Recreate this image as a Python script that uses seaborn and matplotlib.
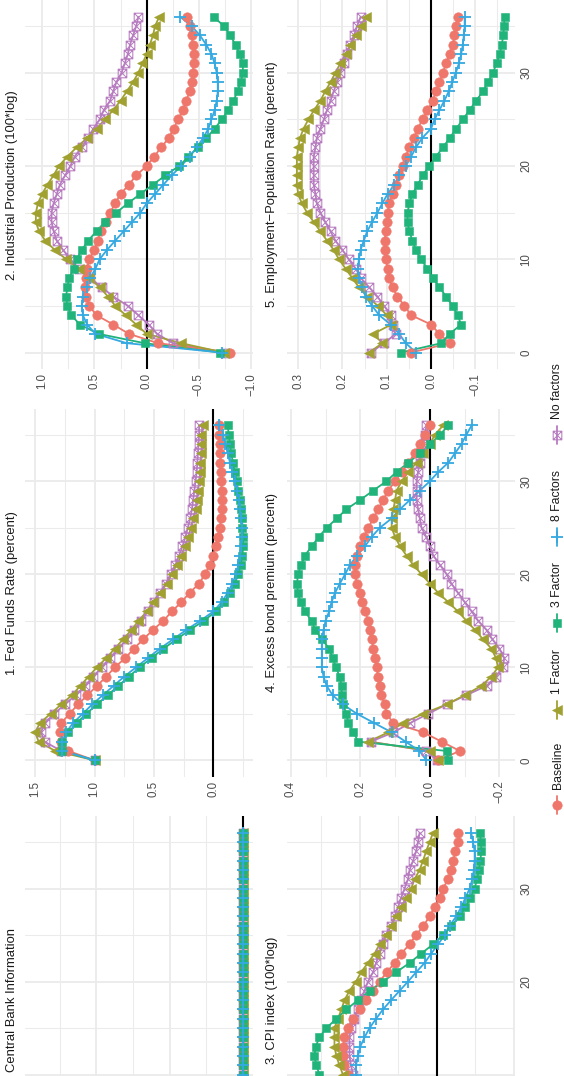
import matplotlib
matplotlib.use("Agg")
import matplotlib.pyplot as plt
from matplotlib.path import Path
import seaborn as sns

# ---------------- data ----------------
horizons = list(range(37))
series_names = ["Baseline", "1 Factor", "3 Factor", "8 Factors", "No factors"]
series_colors = ["#EF766B", "#A1A131", "#20B37A", "#35A9E1", "#B77CC0"]

cbi_response = [0.567, 0, 0, 0, 0, 0, 0, 0, 0, 0, 0, 0, 0, 0, 0, 0, 0, 0, 0,
                0, 0, 0, 0, 0, 0, 0, 0, 0, 0, 0, 0, 0, 0, 0, 0, 0, 0]

ffr_baseline = [1.0, 1.22, 1.28, 1.29, 1.28, 1.21, 1.14, 1.06, 0.98, 0.90, 0.83, 0.74, 0.67, 0.59, 0.51, 0.42, 0.35, 0.27, 0.20, 0.12, 0.07, 0.03, 0.0, -0.02, -0.04, -0.055, -0.065, -0.07, -0.07, -0.07, -0.065, -0.065, -0.06, -0.06, -0.055, -0.05, -0.045]
ffr_1factor = [1.0, 1.33, 1.47, 1.50, 1.46, 1.37, 1.28, 1.19, 1.12, 1.05, 0.98, 0.90, 0.83, 0.76, 0.69, 0.63, 0.56, 0.51, 0.45, 0.39, 0.35, 0.31, 0.27, 0.24, 0.21, 0.19, 0.17, 0.15, 0.14, 0.13, 0.12, 0.11, 0.11, 0.10, 0.10, 0.10, 0.09]
ffr_3factor = [1.0, 1.27, 1.27, 1.22, 1.15, 1.07, 0.98, 0.89, 0.80, 0.71, 0.62, 0.52, 0.42, 0.31, 0.20, 0.08, -0.02, -0.09, -0.14, -0.18, -0.21, -0.23, -0.245, -0.25, -0.25, -0.245, -0.24, -0.23, -0.22, -0.21, -0.195, -0.18, -0.165, -0.15, -0.14, -0.13, -0.12]
ffr_8factors = [1.0, 1.27, 1.27, 1.24, 1.18, 1.10, 1.02, 0.93, 0.84, 0.75, 0.65, 0.55, 0.45, 0.34, 0.23, 0.11, 0.0, -0.07, -0.12, -0.16, -0.19, -0.21, -0.225, -0.235, -0.24, -0.24, -0.235, -0.225, -0.215, -0.2, -0.18, -0.16, -0.14, -0.12, -0.10, -0.08, -0.05]
ffr_nofactors = [1.0, 1.28, 1.42, 1.45, 1.42, 1.34, 1.25, 1.16, 1.08, 1.01, 0.94, 0.87, 0.80, 0.73, 0.67, 0.61, 0.55, 0.50, 0.45, 0.40, 0.36, 0.32, 0.29, 0.26, 0.235, 0.215, 0.195, 0.18, 0.17, 0.16, 0.15, 0.14, 0.135, 0.13, 0.125, 0.12, 0.12]

ip_baseline = [-0.80, -0.11, 0.17, 0.32, 0.48, 0.55, 0.58, 0.59, 0.58, 0.57, 0.55, 0.50, 0.47, 0.44, 0.39, 0.35, 0.30, 0.25, 0.17, 0.10, 0.0, -0.07, -0.14, -0.21, -0.26, -0.30, -0.35, -0.38, -0.41, -0.43, -0.44, -0.45, -0.45, -0.44, -0.43, -0.41, -0.39]
ip_1factor = [-0.74, -0.33, 0.0, 0.10, 0.20, 0.30, 0.37, 0.45, 0.55, 0.65, 0.77, 0.88, 0.97, 1.03, 1.06, 1.06, 1.04, 1.00, 0.95, 0.89, 0.84, 0.76, 0.67, 0.57, 0.48, 0.40, 0.32, 0.25, 0.19, 0.13, 0.08, 0.04, 0.0, -0.03, -0.06, -0.08, -0.12]
ip_3factor = [-0.70, 0.02, 0.46, 0.64, 0.72, 0.76, 0.77, 0.76, 0.74, 0.70, 0.67, 0.62, 0.56, 0.48, 0.40, 0.29, 0.18, 0.06, -0.06, -0.18, -0.31, -0.40, -0.49, -0.57, -0.65, -0.72, -0.78, -0.83, -0.87, -0.90, -0.92, -0.92, -0.89, -0.85, -0.80, -0.74, -0.64]
ip_8factors = [-0.72, 0.19, 0.49, 0.57, 0.61, 0.62, 0.61, 0.57, 0.54, 0.49, 0.45, 0.38, 0.30, 0.22, 0.14, 0.06, 0.0, -0.08, -0.16, -0.24, -0.33, -0.41, -0.48, -0.54, -0.59, -0.62, -0.65, -0.67, -0.68, -0.68, -0.67, -0.65, -0.62, -0.57, -0.51, -0.43, -0.32]
ip_nofactors = [-0.75, -0.25, -0.10, -0.02, 0.08, 0.18, 0.32, 0.43, 0.54, 0.65, 0.73, 0.80, 0.86, 0.89, 0.91, 0.91, 0.89, 0.86, 0.83, 0.78, 0.73, 0.69, 0.62, 0.56, 0.51, 0.45, 0.41, 0.35, 0.32, 0.29, 0.24, 0.21, 0.18, 0.16, 0.13, 0.10, 0.08]

cpi_baseline = [0.0, 0.02, 0.05, 0.08, 0.11, 0.14, 0.17, 0.19, 0.205, 0.22, 0.231, 0.24, 0.244, 0.244, 0.24, 0.231, 0.218, 0.20, 0.184, 0.166, 0.149, 0.13, 0.11, 0.093, 0.071, 0.054, 0.035, 0.019, 0.006, -0.007, -0.016, -0.029, -0.037, -0.043, -0.048, -0.055, -0.055]
cpi_1factor = [0.0, 0.05, 0.09, 0.13, 0.16, 0.19, 0.21, 0.225, 0.235, 0.24, 0.244, 0.253, 0.261, 0.266, 0.266, 0.266, 0.257, 0.248, 0.24, 0.227, 0.21, 0.197, 0.179, 0.162, 0.149, 0.132, 0.119, 0.106, 0.093, 0.08, 0.067, 0.058, 0.045, 0.036, 0.028, 0.019, 0.010]
cpi_3factor = [0.0, 0.04, 0.09, 0.14, 0.18, 0.22, 0.25, 0.27, 0.285, 0.295, 0.305, 0.313, 0.318, 0.315, 0.305, 0.287, 0.261, 0.235, 0.205, 0.175, 0.14, 0.106, 0.071, 0.041, 0.010, -0.016, -0.037, -0.059, -0.074, -0.087, -0.098, -0.104, -0.109, -0.113, -0.115, -0.115, -0.111]
cpi_8factors = [0.0, 0.03, 0.07, 0.11, 0.14, 0.165, 0.18, 0.195, 0.203, 0.208, 0.21, 0.21, 0.205, 0.199, 0.188, 0.175, 0.158, 0.14, 0.119, 0.097, 0.075, 0.054, 0.032, 0.015, -0.003, -0.02, -0.033, -0.05, -0.063, -0.074, -0.085, -0.092, -0.096, -0.098, -0.098, -0.094, -0.089]
cpi_nofactors = [0.0, 0.04, 0.08, 0.11, 0.14, 0.165, 0.185, 0.20, 0.21, 0.215, 0.218, 0.223, 0.227, 0.227, 0.227, 0.223, 0.214, 0.205, 0.197, 0.188, 0.179, 0.166, 0.158, 0.149, 0.14, 0.132, 0.119, 0.11, 0.101, 0.093, 0.084, 0.075, 0.071, 0.062, 0.054, 0.049, 0.045]

ebp_baseline = [-0.024, -0.086, -0.034, 0.019, 0.105, 0.125, 0.13, 0.14, 0.144, 0.15, 0.153, 0.158, 0.163, 0.168, 0.172, 0.177, 0.187, 0.196, 0.20, 0.21, 0.215, 0.215, 0.21, 0.20, 0.19, 0.177, 0.163, 0.148, 0.134, 0.12, 0.10, 0.081, 0.062, 0.043, 0.029, 0.014, 0.0]
ebp_1factor = [-0.024, 0.0, 0.177, 0.12, 0.077, 0.019, -0.048, -0.10, -0.148, -0.177, -0.196, -0.19, -0.177, -0.153, -0.13, -0.105, -0.081, -0.053, -0.024, 0.0, 0.024, 0.048, 0.067, 0.086, 0.10, 0.11, 0.11, 0.105, 0.10, 0.096, 0.081, 0.062, 0.038, 0.019, 0.0, -0.014, -0.038]
ebp_3factor = [-0.053, -0.048, 0.206, 0.22, 0.235, 0.24, 0.25, 0.254, 0.254, 0.26, 0.27, 0.28, 0.29, 0.31, 0.33, 0.34, 0.36, 0.372, 0.38, 0.382, 0.38, 0.37, 0.36, 0.34, 0.32, 0.297, 0.268, 0.24, 0.20, 0.163, 0.125, 0.096, 0.062, 0.029, 0.0, -0.029, -0.053]
ebp_8factors = [0.01, 0.03, 0.07, 0.11, 0.16, 0.21, 0.25, 0.28, 0.297, 0.306, 0.311, 0.311, 0.311, 0.311, 0.306, 0.30, 0.29, 0.283, 0.273, 0.259, 0.244, 0.23, 0.21, 0.187, 0.168, 0.144, 0.11, 0.086, 0.057, 0.029, 0.0, -0.024, -0.053, -0.072, -0.091, -0.105, -0.12]
ebp_nofactors = [-0.02, 0.01, 0.17, 0.105, 0.057, 0.005, -0.048, -0.105, -0.163, -0.19, -0.21, -0.214, -0.20, -0.18, -0.163, -0.139, -0.12, -0.10, -0.081, -0.062, -0.048, -0.029, -0.01, 0.0, 0.01, 0.024, 0.029, 0.034, 0.038, 0.038, 0.038, 0.034, 0.029, 0.024, 0.019, 0.014, 0.01]

emp_baseline = [0.045, -0.042, -0.019, 0.0, 0.045, 0.06, 0.076, 0.087, 0.095, 0.098, 0.102, 0.105, 0.105, 0.102, 0.10, 0.098, 0.095, 0.087, 0.08, 0.072, 0.064, 0.057, 0.049, 0.038, 0.03, 0.019, 0.008, -0.004, -0.011, -0.019, -0.027, -0.034, -0.042, -0.049, -0.053, -0.057, -0.06]
emp_1factor = [0.14, 0.11, 0.13, 0.09, 0.10, 0.12, 0.144, 0.163, 0.178, 0.193, 0.208, 0.22, 0.235, 0.25, 0.265, 0.28, 0.292, 0.30, 0.303, 0.303, 0.303, 0.303, 0.30, 0.296, 0.288, 0.277, 0.264, 0.25, 0.239, 0.227, 0.216, 0.205, 0.193, 0.182, 0.17, 0.159, 0.148]
emp_3factor = [0.068, -0.023, -0.042, -0.068, -0.06, -0.049, -0.034, -0.019, -0.004, 0.008, 0.023, 0.034, 0.042, 0.049, 0.053, 0.053, 0.049, 0.042, 0.03, 0.019, 0.004, -0.011, -0.027, -0.042, -0.057, -0.072, -0.087, -0.102, -0.117, -0.129, -0.14, -0.148, -0.155, -0.16, -0.163, -0.165, -0.166]
emp_8factors = [0.034, 0.057, 0.072, 0.091, 0.117, 0.133, 0.148, 0.155, 0.163, 0.165, 0.163, 0.159, 0.152, 0.144, 0.133, 0.121, 0.11, 0.098, 0.083, 0.072, 0.057, 0.045, 0.034, 0.02, 0.0, -0.008, -0.019, -0.03, -0.04, -0.048, -0.056, -0.063, -0.068, -0.072, -0.074, -0.076, -0.076]
emp_nofactors = [0.136, 0.106, 0.08, 0.087, 0.091, 0.106, 0.121, 0.14, 0.159, 0.17, 0.186, 0.20, 0.216, 0.227, 0.239, 0.25, 0.258, 0.261, 0.265, 0.265, 0.265, 0.265, 0.261, 0.258, 0.25, 0.242, 0.235, 0.227, 0.22, 0.212, 0.205, 0.197, 0.19, 0.182, 0.174, 0.167, 0.159]

panel_titles = ["Central Bank Information", "1. Fed Funds Rate (percent)",
                "2. Industrial Production (100*log)", "3. CPI index (100*log)",
                "4. Excess bond premium (percent)",
                "5. Employment\u2212Population Ratio (percent)"]
panel_series = [
    [cbi_response, cbi_response, cbi_response, cbi_response, cbi_response],
    [ffr_baseline, ffr_1factor, ffr_3factor, ffr_8factors, ffr_nofactors],
    [ip_baseline, ip_1factor, ip_3factor, ip_8factors, ip_nofactors],
    [cpi_baseline, cpi_1factor, cpi_3factor, cpi_8factors, cpi_nofactors],
    [ebp_baseline, ebp_1factor, ebp_3factor, ebp_8factors, ebp_nofactors],
    [emp_baseline, emp_1factor, emp_3factor, emp_8factors, emp_nofactors],
]
horizon_breaks = [0, 10, 20, 30]
horizon_minor = [5, 15, 25, 35]

# ---------------- layout / style ----------------
W, H = 564, 1076
sns.set_theme(style="white")
plt.rcParams['font.family'] = ['Liberation Sans', 'DejaVu Sans']
plt.rcParams['axes.unicode_minus'] = True

fig = plt.figure(figsize=(W / 100, H / 100), dpi=100)
fig.patch.set_facecolor("white")

col_x = [(25.0, 253.3), (286.7, 514.7)]
row_y = [(0.0, 369.3), (408.7, 777.0), (816.0, 1184.3)]

# (column, row, value limits (left, right), major, minor, title x)
panel_layout = [
    (0, 2, (0.595, -0.028), [0, 0.2, 0.4], [0.1, 0.3, 0.5], 12.5),
    (0, 1, (1.585, -0.336), [0, 0.5, 1.0, 1.5], [-0.25, 0.25, 0.75, 1.25], 12.5),
    (0, 0, (1.164, -1.02), [-1.0, -0.5, 0, 0.5, 1.0], [-0.75, -0.25, 0.25, 0.75], 12.5),
    (1, 2, (0.39, -0.202), [-0.2, 0, 0.2], [-0.1, 0.1, 0.3], 272),
    (1, 1, (0.412, -0.244), [-0.2, 0, 0.2, 0.4], [-0.1, 0.1, 0.3], 272),
    (1, 0, (0.326, -0.189), [-0.1, 0, 0.1, 0.2, 0.3], [-0.15, -0.05, 0.05, 0.15, 0.25], 272),
]

sq = Path([(-1, -1), (1, -1), (1, 1), (-1, 1), (-1, -1), (-1, -1), (1, 1), (-1, 1), (1, -1)],
          [Path.MOVETO, Path.LINETO, Path.LINETO, Path.LINETO, Path.CLOSEPOLY,
           Path.MOVETO, Path.LINETO, Path.MOVETO, Path.LINETO])
marker_styles = [
    dict(marker="o", markersize=6.8, markeredgewidth=0.4, fill=True),
    dict(marker="<", markersize=7.6, markeredgewidth=0.4, fill=True),
    dict(marker="s", markersize=6.4, markeredgewidth=0.4, fill=True),
    dict(marker="+", markersize=8.8, markeredgewidth=1.3, fill=True),
    dict(marker=sq, markersize=6.2, markeredgewidth=0.75, fill=False),
]
draw_order = [4, 0, 1, 2, 3]   # "No factors" sits underneath the others

def fmt(v):
    s = f"{v:.1f}"
    if s.startswith("-"):
        s = "\u2212" + s[1:]
    return s

grid_color = "#EBEBEB"
tick_color = "#4D4D4D"

for title, series, (c, r, xlim, major, minor, tx) in zip(panel_titles, panel_series, panel_layout):
    x0, x1 = col_x[c]
    y0, y1 = row_y[r]
    ax = fig.add_axes([x0 / W, 1 - y1 / H, (x1 - x0) / W, (y1 - y0) / H])
    ax.set_facecolor("white")
    ax.axvline(0, color="black", lw=1.5, zorder=1.5)
    # lines first (all series), then the points on top
    for i in draw_order:
        sns.lineplot(x=series[i], y=horizons, orient="y", sort=False, estimator=None,
                     color=series_colors[i], linewidth=1.3, ax=ax, zorder=2)
    for i in draw_order:
        ms = marker_styles[i]
        color = series_colors[i]
        sns.lineplot(x=series[i], y=horizons, orient="y", sort=False, estimator=None,
                     color=color, linestyle="none", marker=ms["marker"],
                     markersize=ms["markersize"], markeredgewidth=ms["markeredgewidth"],
                     markeredgecolor=color,
                     markerfacecolor=(color if ms["fill"] else "none"),
                     ax=ax, zorder=3)
    ax.set_xlim(*xlim)
    ax.set_ylim(-1.8, 37.8)
    ax.set_xticks(major)
    ax.set_xticks(minor, minor=True)
    ax.set_xticklabels([fmt(v) for v in major], rotation=90)
    ax.set_yticks(horizon_breaks)
    ax.set_yticks(horizon_minor, minor=True)
    ax.grid(True, which="major", color=grid_color, lw=1.3)
    ax.grid(True, which="minor", color=grid_color, lw=0.75)
    ax.set_axisbelow(True)
    for s in ax.spines.values():
        s.set_visible(False)
    ax.set_xlabel("")
    ax.set_ylabel("")
    ax.tick_params(axis="x", which="both", length=0, pad=2.6, labelsize=8.3,
                   labelcolor=tick_color, labelbottom=(r != 2))
    ax.yaxis.tick_right()
    if c == 1:
        shown = [str(h) if (r != 2 or h >= 20) else "" for h in horizon_breaks]
        ax.set_yticklabels(shown, rotation=90, va="center")
        ax.tick_params(axis="y", which="both", length=0, pad=4.0, labelsize=8.3,
                       labelcolor=tick_color)
    else:
        ax.tick_params(axis="y", which="both", length=0, labelright=False, labelleft=False)
    fig.text(tx / W, 1 - ((y0 + y1) / 2) / H, title, rotation=90, ha="center", va="center",
             fontsize=9.4, color="#1A1A1A")

# ---------------- legend (drawn vertically, like the rotated original) ----------------
leg = fig.add_axes([540 / W, 0, 24 / W, 1])
leg.set_xlim(540, 564)
leg.set_ylim(H, 0)
leg.axis("off")
key_centres = [805, 710, 623, 537, 435]
for name, color, ms, yc in zip(series_names, series_colors, marker_styles, key_centres):
    leg.plot([556.5, 556.5], [yc - 9, yc + 9], color=color, lw=1.3)
    leg.plot([556.5], [yc], color=color, marker=ms["marker"], markersize=ms["markersize"],
             markeredgewidth=ms["markeredgewidth"], markeredgecolor=color,
             markerfacecolor=(color if ms["fill"] else "none"), linestyle="none")
    leg.text(557.5, yc - 16, name, rotation=90, ha="center", va="bottom",
             fontsize=8.8, color="#1A1A1A")

fig.savefig("out.png", dpi=100, facecolor="white")
